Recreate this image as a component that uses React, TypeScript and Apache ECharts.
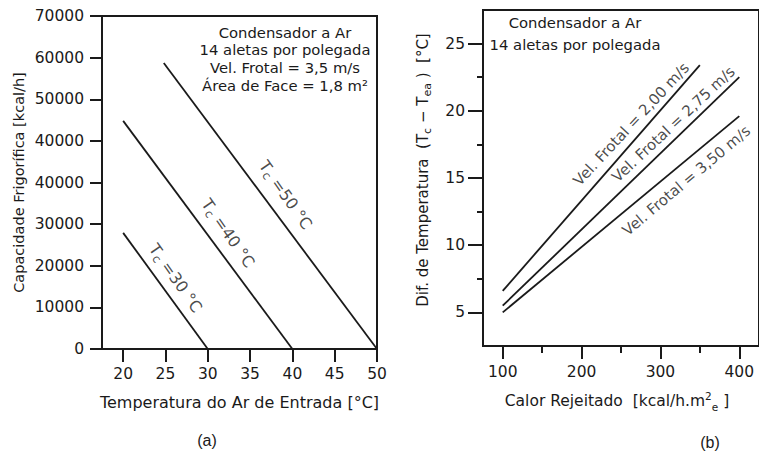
import React, { useEffect, useRef } from "react";
import * as echarts from "echarts";

// ---------- Chart (a) ----------
const xTicksA = [20, 25, 30, 35, 40, 45, 50];
// tick labels as printed on the original (note the repeated "40000")
const yTickLabelsA = ["0", "10000", "20000", "30000", "40000", "40000", "50000", "60000", "70000"];
// y values are in axis position units (tick i of the axis sits at i*10000)
const tc30 = [[20, 27900], [30, 0]];
const tc40 = [[20, 54800], [40, 0]];
const tc50 = [[24.8, 68700], [50, 0]];
const tcNames = ["30", "40", "50"];
const tcLabelAnchors = [[26.2, 17040], [32.4, 27840], [39.2, 37000]];
const notesA = ["Condensador a Ar", "14 aletas por polegada", "Vel. Frotal = 3,5 m/s", "Área de Face = 1,8 m²"];

// ---------- Chart (b) ----------
const xMajorB = [100, 200, 300, 400];
const xMinorB = [150, 250, 350];
const yMajorB = [5, 10, 15, 20, 25];
const yMinorB = [7.5, 12.5, 17.5, 22.5];
const vel200 = [[100, 6.6], [350, 23.4]];
const vel275 = [[100, 5.5], [400, 22.5]];
const vel350 = [[100, 5.0], [400, 19.6]];
const velNames = ["2,00", "2,75", "3,50"];
const velLabelAnchors = [[263, 19.0], [316.5, 19.0], [333, 14.8]];
const notesB = ["Condensador a Ar", "14 aletas por polegada"];

const INK = "#1a1a1a";
const FONT = "DejaVu Sans";

export default function App() {
  const ref = useRef<HTMLDivElement>(null);
  useEffect(() => {
    if (!ref.current) return;
    const chart = echarts.init(ref.current, undefined, { renderer: "svg" });
    const axisLine = { show: true, lineStyle: { color: INK, width: 2 } };
    const tickStyle = { color: INK, width: 2 };
    const lbl = { color: INK, fontSize: 15.5, fontFamily: FONT };
    const lineSeries = (data: number[][], xi: number, yi: number) => ({
      type: "line",
      data,
      xAxisIndex: xi,
      yAxisIndex: yi,
      showSymbol: false,
      symbol: "none",
      lineStyle: { color: INK, width: 1.8 },
      silent: true,
    });
    const richMain = { fontSize: 16, fontFamily: FONT, color: INK, lineHeight: 21 };
    const richSub = { fontSize: 12, fontFamily: FONT, color: INK, lineHeight: 12, verticalAlign: "bottom" };
    const velRot = [47, 43, 40];

    chart.setOption({
      animation: false,
      backgroundColor: "#fff",
      grid: [
        { left: 102, top: 16, width: 275, height: 333, show: true, borderColor: INK, borderWidth: 2, backgroundColor: "transparent" },
        { left: 483, top: 10, width: 282, height: 336, show: true, borderColor: INK, borderWidth: 2, backgroundColor: "transparent" },
      ],
      xAxis: [
        {
          gridIndex: 0, type: "value", min: 17.5, max: 50,
          axisLine,
          axisTick: { show: true, customValues: xTicksA, length: 13, lineStyle: tickStyle },
          axisLabel: { ...lbl, customValues: xTicksA, margin: 17 },
          splitLine: { show: false },
          name: "Temperatura do Ar de Entrada [°C]",
          nameLocation: "middle", nameGap: 45,
          nameTextStyle: { color: INK, fontSize: 16, fontFamily: FONT },
        },
        {
          gridIndex: 1, type: "value", min: 75, max: 425, position: "bottom",
          axisLine,
          axisTick: { show: true, customValues: xMajorB, length: 13, lineStyle: tickStyle },
          axisLabel: { ...lbl, customValues: xMajorB, margin: 18 },
          splitLine: { show: false },
          name: "{n|Calor Rejeitado  [kcal/h.m}{p|2}{s|e}{n| ]}",
          nameLocation: "middle", nameGap: 44,
          nameTextStyle: {
            color: INK, fontSize: 15.5, fontFamily: FONT, padding: [0, 8, 0, 0],
            rich: {
              n: { fontSize: 15.5, fontFamily: FONT, color: INK, lineHeight: 22 },
              p: { fontSize: 10.5, fontFamily: FONT, color: INK, lineHeight: 10, verticalAlign: "top" },
              s: { fontSize: 10.5, fontFamily: FONT, color: INK, lineHeight: 10, verticalAlign: "bottom" },
            },
          },
        },
        {
          gridIndex: 1, type: "value", min: 75, max: 425, position: "bottom",
          axisLine: { show: false },
          axisTick: { show: true, customValues: xMinorB, length: 7, lineStyle: tickStyle },
          axisLabel: { show: false },
          splitLine: { show: false },
        },
      ],
      yAxis: [
        {
          gridIndex: 0, type: "value", min: 0, max: 80000, interval: 10000,
          axisLine,
          axisTick: { show: true, length: 12, lineStyle: tickStyle },
          axisLabel: { ...lbl, margin: 18, formatter: (v: number) => yTickLabelsA[Math.round(v / 10000)] ?? "" },
          splitLine: { show: false },
          name: "Capacidade Frigorífica [kcal/h]",
          nameLocation: "middle", nameGap: 76, nameRotate: 90,
          nameTextStyle: { color: INK, fontSize: 14.5, fontFamily: FONT },
        },
        {
          gridIndex: 1, type: "value", min: 2.5, max: 27.5, position: "left",
          axisLine,
          axisTick: { show: true, customValues: yMajorB, length: 15, lineStyle: tickStyle },
          axisLabel: { ...lbl, customValues: yMajorB, margin: 18 },
          splitLine: { show: false },
          name: "{n|Dif. de Temperatura  (T}{s|c}{n| − T}{s|ea}{n| )  [°C]}",
          nameLocation: "middle", nameGap: 50, nameRotate: 90,
          nameTextStyle: {
            color: INK, fontSize: 15, fontFamily: FONT, padding: [0, 0, 0, 16],
            rich: {
              n: { fontSize: 15, fontFamily: FONT, color: INK, lineHeight: 20 },
              s: { fontSize: 11, fontFamily: FONT, color: INK, lineHeight: 11, verticalAlign: "bottom" },
            },
          },
        },
        {
          gridIndex: 1, type: "value", min: 2.5, max: 27.5, position: "left",
          axisLine: { show: false },
          axisTick: { show: true, customValues: yMinorB, length: 6, lineStyle: tickStyle },
          axisLabel: { show: false },
          splitLine: { show: false },
        },
      ],
      series: [
        lineSeries(tc30, 0, 0),
        lineSeries(tc40, 0, 0),
        lineSeries(tc50, 0, 0),
        lineSeries(vel200, 1, 1),
        lineSeries(vel275, 1, 1),
        lineSeries(vel350, 1, 1),
        {
          type: "scatter", xAxisIndex: 0, yAxisIndex: 0, symbolSize: 1, silent: true,
          itemStyle: { color: "rgba(0,0,0,0)" },
          label: { show: true, position: "inside", rotate: -55, color: INK, rich: { a: richMain, b: richSub } },
          data: tcLabelAnchors.map((p, i) => ({
            value: p,
            label: { formatter: `{a|T}{b|c}{a| =${tcNames[i]} °C}` },
          })),
        },
        {
          type: "scatter", xAxisIndex: 1, yAxisIndex: 1, symbolSize: 1, silent: true,
          itemStyle: { color: "rgba(0,0,0,0)" },
          label: { show: true, position: "inside", color: INK, fontSize: 15, fontFamily: FONT },
          data: velLabelAnchors.map((p, i) => ({
            value: p,
            label: { rotate: velRot[i], formatter: `Vel. Frotal = ${velNames[i]} m/s` },
          })),
        },
      ],
      graphic: [
        ...notesA.map((t, i) => ({
          type: "text", x: 285, y: 32 + i * 17.7,
          style: { text: t, fill: INK, font: `14.8px "${FONT}"`, textAlign: "center", textVerticalAlign: "middle" },
        })),
        ...notesB.map((t, i) => ({
          type: "text", x: 575, y: 22 + i * 22,
          style: { text: t, fill: INK, font: `14.8px "${FONT}"`, textAlign: "center", textVerticalAlign: "middle" },
        })),
        { type: "text", x: 207, y: 440, style: { text: "(a)", fill: INK, font: `16px "Liberation Sans"`, textAlign: "center", textVerticalAlign: "middle" } },
        { type: "text", x: 710, y: 442, style: { text: "(b)", fill: INK, font: `16px "Liberation Sans"`, textAlign: "center", textVerticalAlign: "middle" } },
      ],
    });
    return () => chart.dispose();
  }, []);
  return (
    <div
      ref={ref}
      style={{ position: "fixed", left: 0, top: 0, width: 759, height: 455, background: "#fff", overflow: "hidden" }}
    />
  );
}
